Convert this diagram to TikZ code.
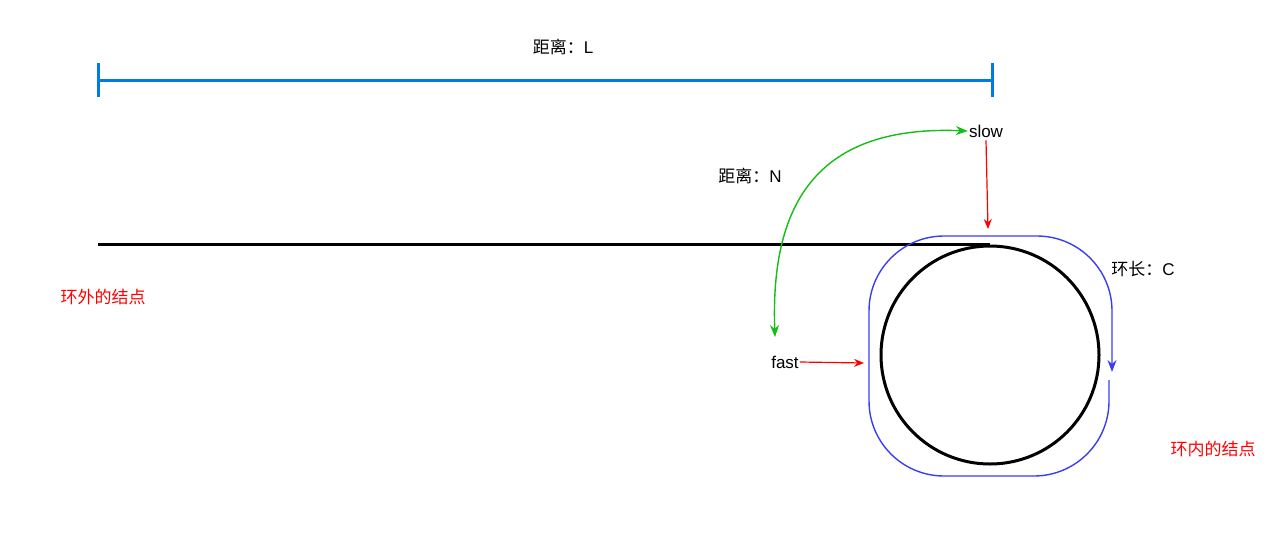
\documentclass[tikz,border=0pt]{standalone}
\usepackage{fontspec}
\setmainfont{Liberation Sans}
\newfontfamily\cjk{Noto Sans CJK SC}
\usetikzlibrary{arrows.meta}
\definecolor{dimblue}{RGB}{0,122,230}
\definecolor{loopblue}{RGB}{60,60,245}
\definecolor{arrgreen}{RGB}{20,190,20}
\tikzset{
    lbl/.style={inner sep=1pt, font=\fontsize{17}{20}\selectfont},
    redlbl/.style={lbl, text=red},
    redarr/.style={red, line width=1.2pt, -{Stealth[length=10pt,width=8pt]}},
}
\begin{document}
\begin{tikzpicture}[x=1pt,y=-1pt]
		\useasboundingbox (0,0) rectangle (1287,533);

		% distance L
		\draw[dimblue, line width=3pt] (98,80) -- (992,80);
		\draw[dimblue, line width=3pt] (98,63) -- (98,97);
		\draw[dimblue, line width=3pt] (992,63) -- (992,97);
		\node[lbl] (distL) at (563,47) {{\cjk 距离：}L};

		% list and loop
		\coordinate (tail) at (98,244);
		\coordinate (entry) at (990,244);
		\draw[line width=3pt] (tail) -- (entry);
		\draw[line width=3pt] (990,355) circle [radius=109];
		\draw[loopblue, line width=1.4pt, rounded corners=75pt, -{Stealth[length=12pt,width=9pt]}]
			(1109,380) -- (1109,476) -- (869,476) -- (869,236) -- (1112,236) -- (1112,372);
		\node[lbl] (lenC) at (1143,269) {{\cjk 环长：}C};

		% pointers
		\node[lbl] (slow) at (986,131) {slow};
		\node[lbl] (fast) at (785,362) {fast};
		\coordinate (slowtip) at (988,229);
		\coordinate (fasttip) at (864,363);
		\draw[redarr] (slow.south) ++(0,2) -- (slowtip);
		\draw[redarr] (fast.east) -- (fasttip);
		\draw[arrgreen, line width=1.4pt, {Stealth[length=12pt,width=9pt]}-{Stealth[length=12pt,width=9pt]}]
			(775,337) .. controls (770,200) and (820,125) .. (slow.west);
		\node[lbl] (distN) at (750,176) {{\cjk 距离：}N};

		% captions
		\node[redlbl] (outside) at (103,297) {\cjk 环外的结点};
		\node[redlbl] (inside) at (1213,449) {\cjk 环内的结点};
	\end{tikzpicture}
\end{document}
